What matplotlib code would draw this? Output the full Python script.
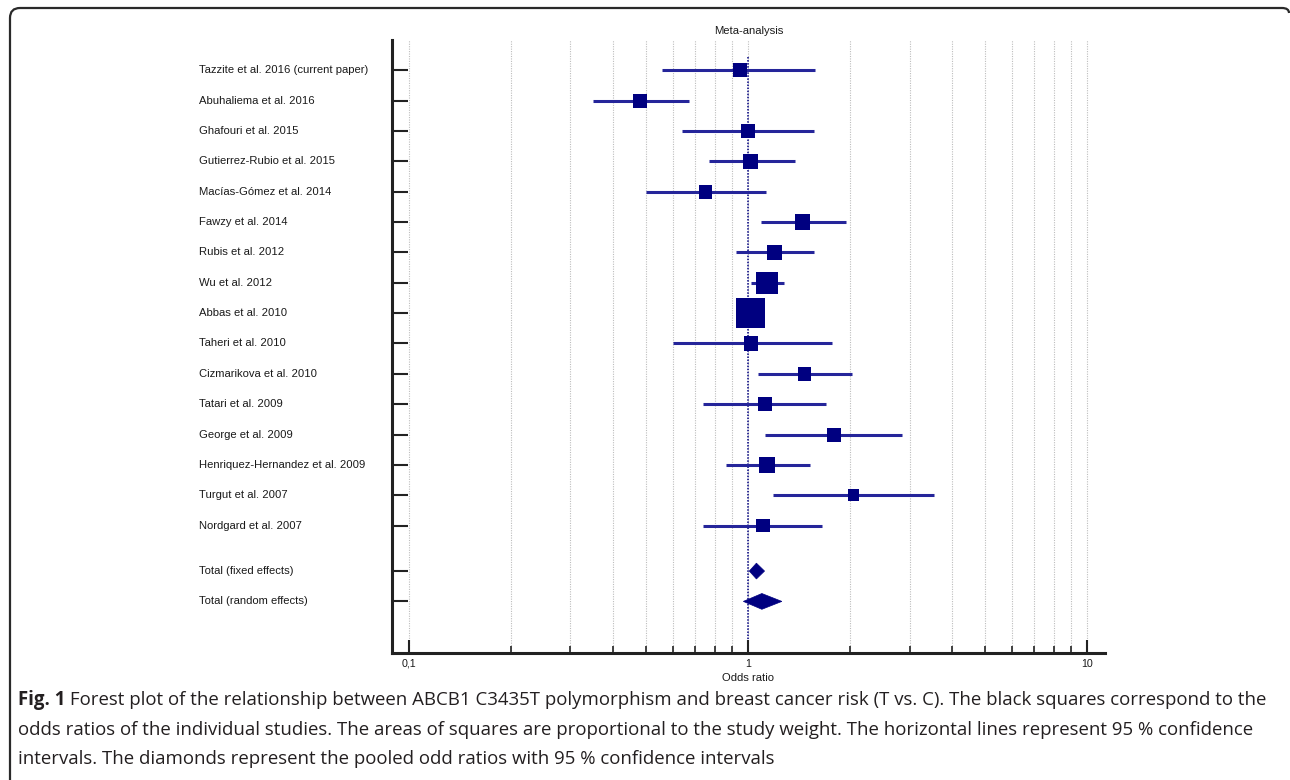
import matplotlib
matplotlib.use("Agg")
import matplotlib.pyplot as plt
from matplotlib.path import Path
from matplotlib.patches import PathPatch, Polygon
from matplotlib.ticker import FixedLocator, NullFormatter
from matplotlib.transforms import blended_transform_factory

# Study-level data -----------------------------------------------------------
studies = [
    "Tazzite et al. 2016 (current paper)",
    "Abuhaliema et al. 2016",
    "Ghafouri et al. 2015",
    "Gutierrez-Rubio et al. 2015",
    "Macías-Gómez et al. 2014",
    "Fawzy et al. 2014",
    "Rubis et al. 2012",
    "Wu et al. 2012",
    "Abbas et al. 2010",
    "Taheri et al. 2010",
    "Cizmarikova et al. 2010",
    "Tatari et al. 2009",
    "George et al. 2009",
    "Henriquez-Hernandez et al. 2009",
    "Turgut et al. 2007",
    "Nordgard et al. 2007",
]
odds = [0.95, 0.48, 1.00, 1.02, 0.75, 1.45, 1.20, 1.14, 1.02, 1.02, 1.47, 1.12, 1.79, 1.14, 2.05, 1.11]
ci_low = [0.56, 0.35, 0.64, 0.77, 0.50, 1.09, 0.92, 1.02, 0.94, 0.60, 1.07, 0.74, 1.12, 0.86, 1.19, 0.74]
ci_high = [1.58, 0.67, 1.57, 1.38, 1.13, 1.95, 1.57, 1.28, 1.11, 1.77, 2.03, 1.70, 2.84, 1.52, 3.54, 1.65]
weights = [4.7, 4.7, 4.7, 5.4, 4.4, 5.6, 5.6, 11.3, 20.6, 4.9, 4.4, 4.7, 4.7, 5.9, 3.3, 4.4]

pooled_labels = ["Total (fixed effects)", "Total (random effects)"]
pooled_or = [1.06, 1.10]
pooled_low = [1.01, 0.97]
pooled_high = [1.12, 1.26]

caption_lines = [
    " Forest plot of the relationship between ABCB1 C3435T polymorphism and breast cancer risk (T vs. C). The black squares correspond to the",
    "odds ratios of the individual studies. The areas of squares are proportional to the study weight. The horizontal lines represent 95 % confidence",
    "intervals. The diamonds represent the pooled odd ratios with 95 % confidence intervals",
]

# Style ----------------------------------------------------------------------
_NAVY = "#000080"
_LINE = "#25259a"
_AXIS = "#222222"
_GRID = "#bdbdbd"
_TEXT = "#1a1a1a"
_LABEL_FONT = "Liberation Sans"
_CAPTION_FONT = "Open Sans"
_FS = 8.1
_CAP_FS = 13.45

W, H = 1290, 780
fig = plt.figure(figsize=(W / 100, H / 100), dpi=100)

# frame around figure + caption (pixel coords)
frame_ax = fig.add_axes([0, 0, 1, 1])
frame_ax.set_xlim(0, W)
frame_ax.set_ylim(H, 0)
frame_ax.axis("off")
verts = [(10, 780), (10, 18), (10, 8), (20, 8), (1282, 8), (1289, 8), (1289, 13)]
codes = [Path.MOVETO, Path.LINETO, Path.CURVE3, Path.CURVE3, Path.LINETO, Path.CURVE3, Path.CURVE3]
frame_ax.add_patch(PathPatch(Path(verts, codes), fill=False, lw=1.6, ec="#2a2a2a"))

# main forest plot
ax = fig.add_axes([392 / W, 1 - 653 / H, (1105 - 392) / W, (653 - 40) / H])
ax.set_facecolor("none")
ax.set_xscale("log")
ax.set_xlim(0.0893, 11.3)

n = len(studies)
rows = list(range(n))
pooled_rows = [n + 0.5, n + 1.5]
ax.set_ylim(n + 3.2, -1)

major = [0.1, 1, 10]
minor = [m * d for d in (0.1, 1) for m in range(2, 10)]
ax.xaxis.set_major_locator(FixedLocator(major))
ax.xaxis.set_minor_locator(FixedLocator(minor))
ax.xaxis.set_minor_formatter(NullFormatter())
ax.set_xticklabels(["0,1", "1", "10"], fontsize=_FS - 0.4, family=_LABEL_FONT, color=_TEXT)
for x in major + minor:
    ax.axvline(x, color=_GRID, lw=0.8, ls=(0, (1, 1.2)), zorder=0)

ax.set_yticks(rows + pooled_rows)
ax.set_yticklabels([])
ax.tick_params(axis="y", direction="in", length=11.5, width=1.5, color=_AXIS)
ax.tick_params(axis="x", which="major", direction="in", length=9.5, width=1.5,
               color=_AXIS, pad=4)
ax.tick_params(axis="x", which="minor", direction="in", length=5, width=1.2, color=_AXIS)
for side in ("top", "right"):
    ax.spines[side].set_visible(False)
for side in ("left", "bottom"):
    ax.spines[side].set_linewidth(2.2)
    ax.spines[side].set_color(_AXIS)

# reference line at OR = 1
ax.plot([1, 1], [-0.45, n + 3.2], color=_NAVY, lw=1.1, ls=(0, (1, 1)), zorder=1)

# confidence intervals + weighted squares
ax.hlines(rows, ci_low, ci_high, color=_LINE, lw=2.2, zorder=2)
ax.scatter(odds, rows, s=[w * 21.6 for w in weights], marker="s", color=_NAVY,
           linewidths=0, zorder=3)

# pooled diamonds
for y, est, lo, hi in zip(pooled_rows, pooled_or, pooled_low, pooled_high):
    ax.add_patch(Polygon([(lo, y), (est, y - 0.26), (hi, y), (est, y + 0.26)],
                         closed=True, fc=_NAVY, ec=_NAVY, lw=0.5, zorder=3))

# row labels, left aligned at a fixed figure x
lab_tf = blended_transform_factory(fig.transFigure, ax.transData)
for y, name in zip(rows + pooled_rows, studies + pooled_labels):
    ax.text(199 / W, y, name, transform=lab_tf, ha="left", va="center",
            fontsize=_FS, family=_LABEL_FONT, color=_TEXT)

ax.set_title("Meta-analysis", fontsize=_FS, family=_LABEL_FONT, color=_TEXT, pad=4)
ax.set_xlabel("Odds ratio", fontsize=_FS, family=_LABEL_FONT, color=_TEXT, labelpad=3)

# caption
cap_y = [700, 730, 759]
fig_txt = frame_ax.text(18, cap_y[0], "Fig. 1", fontsize=_CAP_FS, family=_CAPTION_FONT,
                        weight="bold", color="#231f20", va="center", ha="left")
fig.canvas.draw()
x_after = frame_ax.transData.inverted().transform((fig_txt.get_window_extent().x1, 0))[0]
frame_ax.text(x_after, cap_y[0], caption_lines[0], fontsize=_CAP_FS, family=_CAPTION_FONT,
              color="#231f20", va="center", ha="left")
for y, line in zip(cap_y[1:], caption_lines[1:]):
    frame_ax.text(18, y, line, fontsize=_CAP_FS, family=_CAPTION_FONT,
                  color="#231f20", va="center", ha="left")

fig.savefig("out.png", dpi=100)
